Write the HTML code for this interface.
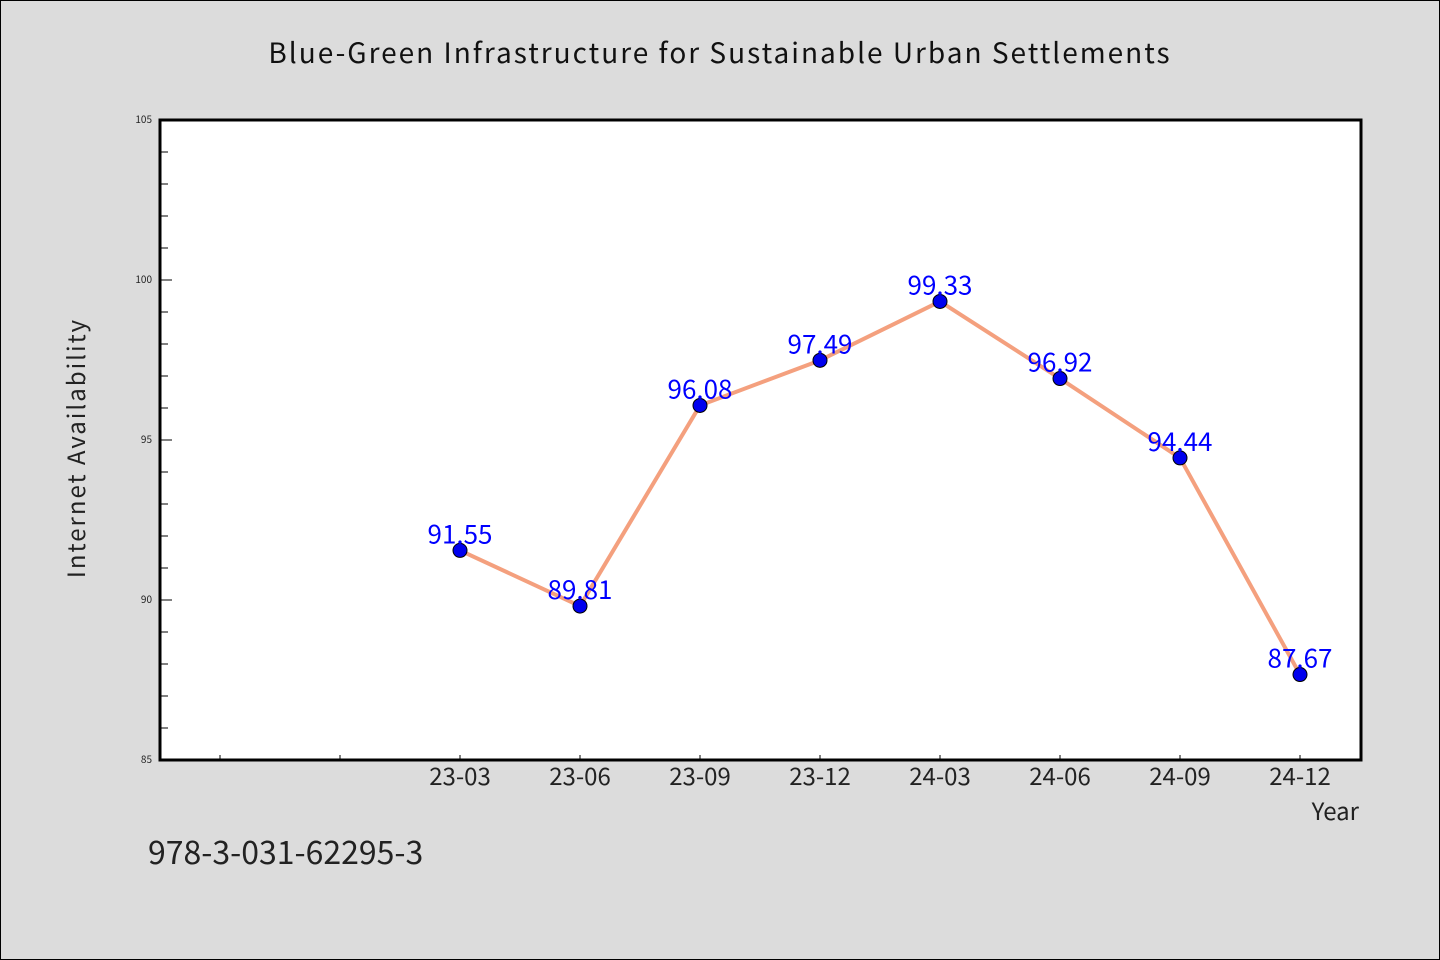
<!DOCTYPE html>
<html><head><meta charset="utf-8"><style>
html,body{margin:0;padding:0;background:#dcdcdc;}
svg{display:block;font-family:"WenQuanYi Zen Hei Mono","WenQuanYi Zen Hei","Noto Sans CJK SC","Liberation Sans",sans-serif;}
</style></head><body>
<svg id="chart" width="1440" height="960" viewBox="0 0 1440 960" xmlns="http://www.w3.org/2000/svg">
<rect x="0.5" y="0.5" width="1439" height="959" fill="#dcdcdc" stroke="#000"/>
<text x="720" y="63" text-anchor="middle" font-size="28" letter-spacing="2" fill="#111">Blue-Green Infrastructure for Sustainable Urban Settlements</text>
<rect x="160" y="120" width="1201" height="640" fill="#fff"/>
<g id="axes"></g>
<g id="series"></g>
<rect x="160" y="120" width="1201" height="640" fill="none" stroke="#000" stroke-width="3"/>
<text transform="translate(85,448) rotate(-90)" text-anchor="middle" font-size="24" letter-spacing="2" fill="#222">Internet Availability</text>
<text x="1359" y="820" text-anchor="end" font-size="24" fill="#222">Year</text>
<text x="148" y="864" font-size="32" fill="#222">978-3-031-62295-3</text>
</svg>
<script>
const categories = ["23-03","23-06","23-09","23-12","24-03","24-06","24-09","24-12"];
const values = [91.55,89.81,96.08,97.49,99.33,96.92,94.44,87.67];
const valueLabels = ["91.55","89.81","96.08","97.49","99.33","96.92","94.44","87.67"];
const yTicks = [85,90,95,100,105];
const NS="http://www.w3.org/2000/svg";
const yMin=85,yMax=105,plotTop=120,plotBottom=760;
const yScale=v=>plotBottom-(v-yMin)/(yMax-yMin)*(plotBottom-plotTop);
const slotOffset=2;
const xScale=i=>220+120*(i+slotOffset);
function mk(tag,attrs,parent){const e=document.createElementNS(NS,tag);for(const k in attrs)e.setAttribute(k,attrs[k]);parent.appendChild(e);return e;}
const axesG=document.getElementById('axes'), seriesG=document.getElementById('series');
for(let v=yMin;v<=yMax;v++){
  const major=(v%5===0);
  const t=mk('line',{x1:160,x2:160+(major?12:8),y1:yScale(v),y2:yScale(v),stroke:'#000','stroke-width':1},axesG);
  
  
}
yTicks.forEach(v=>{
  const t=mk('text',{x:152,y:yScale(v)+3,'text-anchor':'end','font-size':10,fill:'#222'},axesG);
  t.textContent=v;
  
  
});
for(let i=-slotOffset;i<categories.length;i++){
  const t=mk('line',{x1:xScale(i),x2:xScale(i),y1:760,y2:755,stroke:'#000','stroke-width':1},axesG);
  
  
}
categories.forEach((c,i)=>{
  const t=mk('text',{x:xScale(i),y:785,'text-anchor':'middle','font-size':24,fill:'#222'},axesG);
  t.textContent=c;
  
  
});
const pts=values.map((v,i)=>xScale(i)+','+yScale(v)).join(' ');
const line=mk('polyline',{points:pts,fill:'none',stroke:'#f4a07e','stroke-width':4,'stroke-linejoin':'round'},seriesG);


values.forEach((v,i)=>{
  const c=mk('circle',{cx:xScale(i),cy:yScale(v),r:7,fill:'#0000ee',stroke:'#000','stroke-width':1},seriesG);
  
  
  const t=mk('text',{x:xScale(i),y:yScale(v)-7,'text-anchor':'middle','font-size':26,fill:'#0000ff'},seriesG);
  t.textContent=valueLabels[i];
  
  
});
</script>
</body></html>
